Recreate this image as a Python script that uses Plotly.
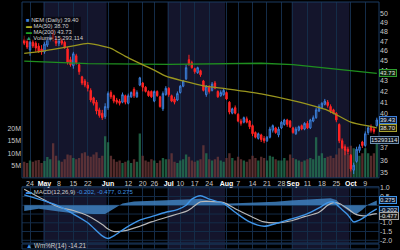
import math
import pandas as pd
import plotly.graph_objects as go

# ---------------- data ----------------
holidays = ["2023-05-29", "2023-06-19", "2023-07-04", "2023-09-04"]
dates = [d.strftime("%Y-%m-%d") for d in pd.bdate_range("2023-04-20", "2023-10-13")
         if d.strftime("%Y-%m-%d") not in holidays]

open_ = [47.2, 47.0, 46.1, 46.9, 46.8, 46.5, 46.2, 45.9, 46.6, 47.2, 47.8, 47.3, 46.8, 47.2, 46.9,
         46.2, 45.1, 44.5, 45.5, 44.6, 43.4, 43.0, 42.6, 42.1, 41.4, 41.0, 40.3, 40.0, 39.7, 40.5,
         41.9, 41.6, 41.2, 41.1, 41.0, 41.6, 40.9, 41.5, 42.2, 41.5, 42.6, 42.8, 42.4, 42.0, 42.0,
         41.1, 42.0, 41.5, 40.4, 41.7, 42.3, 41.6, 41.3, 41.2, 41.9, 42.5, 43.2, 45.1, 44.8, 44.2,
         43.8, 44.0, 43.0, 41.7, 42.4, 42.1, 42.8, 42.0, 41.6, 41.7, 41.9, 41.0, 40.0, 40.5, 39.9,
         39.3, 39.2, 39.5, 39.3, 38.9, 38.3, 37.8, 38.1, 37.8, 37.6, 37.9, 38.5, 38.7, 38.1, 38.7,
         39.0, 39.4, 39.3, 38.7, 38.2, 38.5, 38.9, 38.6, 39.1, 38.7, 39.3, 39.6, 40.2, 40.5, 40.8,
         41.0, 40.6, 40.3, 40.0, 39.0, 37.6, 37.1, 36.9, 36.4, 35.2, 35.9, 36.8, 37.5, 37.2, 38.3,
         38.8, 38.6, 38.9]
high = [47.6, 47.3, 47.1, 47.2, 47.0, 46.8, 46.6, 46.9, 47.5, 48.0, 48.3, 47.5, 47.3, 47.4, 47.1,
        46.4, 45.4, 45.9, 45.7, 44.8, 43.5, 43.2, 42.9, 42.3, 41.5, 41.2, 40.5, 40.3, 40.9, 42.0,
        42.1, 41.7, 41.4, 41.3, 41.9, 41.7, 41.8, 42.0, 42.4, 42.1, 43.4, 42.9, 42.5, 42.1, 42.1,
        42.1, 42.1, 41.6, 42.0, 42.5, 42.4, 41.7, 41.5, 42.0, 42.6, 43.1, 44.6, 45.6, 45.0, 44.3,
        44.4, 44.1, 43.1, 42.6, 42.6, 42.9, 43.0, 42.1, 42.1, 42.3, 42.0, 41.1, 40.5, 40.7, 40.0,
        39.5, 39.7, 39.7, 39.4, 39.0, 38.4, 38.3, 38.2, 38.0, 38.0, 38.8, 39.0, 38.8, 38.8, 39.3,
        39.5, 39.5, 39.4, 38.8, 38.8, 38.9, 39.0, 39.2, 39.3, 39.5, 39.8, 40.5, 40.8, 41.0, 41.3,
        41.2, 40.8, 40.4, 40.1, 39.1, 37.8, 37.3, 37.1, 36.5, 35.8, 37.1, 37.3, 37.6, 38.4, 38.9,
        39.0, 38.8, 39.6]
low = [46.6, 46.2, 45.5, 46.3, 45.9, 45.8, 45.6, 45.7, 46.4, 47.0, 47.0, 46.5, 46.5, 46.6, 46.2,
       44.6, 44.4, 44.2, 44.6, 43.6, 42.6, 42.4, 42.0, 41.0, 40.7, 39.9, 39.6, 39.4, 39.5, 40.3,
       41.3, 40.9, 40.8, 40.7, 40.9, 40.8, 40.8, 41.4, 41.4, 41.4, 42.5, 42.0, 41.9, 41.5, 41.4,
       41.0, 41.5, 40.5, 40.2, 41.6, 41.5, 41.0, 40.8, 41.1, 41.8, 42.4, 43.1, 44.5, 44.2, 43.7,
       43.7, 43.4, 42.0, 41.5, 41.8, 42.0, 42.2, 41.4, 41.5, 41.6, 41.2, 39.9, 39.9, 39.9, 39.2,
       38.9, 39.1, 39.1, 38.6, 38.0, 37.8, 37.7, 37.5, 37.4, 37.5, 37.8, 38.3, 38.2, 37.9, 38.6,
       38.9, 38.8, 38.7, 38.2, 38.1, 38.4, 38.5, 38.5, 38.6, 38.6, 39.2, 39.5, 40.1, 40.4, 40.7,
       40.5, 40.0, 39.9, 39.2, 37.4, 36.9, 36.4, 36.5, 35.1, 34.9, 35.8, 36.6, 37.0, 37.1, 38.1,
       38.3, 38.2, 38.8]
close = [46.8, 46.4, 46.9, 46.5, 46.3, 45.9, 45.9, 46.7, 47.2, 47.6, 47.3, 46.8, 47.1, 46.8, 46.4,
         44.8, 44.6, 45.7, 44.8, 43.9, 42.8, 42.6, 42.3, 41.2, 40.9, 40.2, 39.8, 39.6, 40.6, 41.8,
         41.5, 41.1, 41.0, 40.9, 41.7, 41.0, 41.6, 41.9, 41.6, 41.9, 43.3, 42.4, 42.0, 41.6, 41.5,
         42.0, 41.6, 40.6, 41.8, 42.3, 41.7, 41.1, 41.0, 41.8, 42.5, 43.0, 44.3, 44.6, 44.3, 43.9,
         44.3, 43.6, 42.1, 42.5, 42.0, 42.7, 42.3, 41.5, 41.9, 42.1, 41.3, 40.1, 40.4, 40.0, 39.3,
         39.1, 39.6, 39.2, 38.8, 38.2, 37.9, 38.2, 37.7, 37.6, 37.9, 38.6, 38.9, 38.3, 38.6, 39.2,
         39.4, 39.0, 38.8, 38.3, 38.6, 38.8, 38.6, 39.1, 38.7, 39.4, 39.6, 40.3, 40.6, 40.9, 41.1,
         40.7, 40.2, 40.0, 39.4, 37.6, 37.0, 36.8, 36.7, 35.3, 35.6, 36.9, 37.1, 37.2, 38.2, 38.7,
         38.5, 38.4, 39.4]
volume_m = [6.5, 6.0, 7.0, 6.5, 7.0, 7.2, 6.0, 6.8, 8.4, 7.5, 14.0, 9.0, 7.0, 6.5, 7.5,
            9.5, 9.2, 8.0, 7.5, 8.0, 10.0, 10.4, 9.0, 8.5, 9.5, 10.4, 8.0, 9.0, 16.8, 14.4,
            9.0, 7.5, 6.5, 7.0, 6.0, 6.5, 7.0, 6.0, 7.5, 6.5, 18.0, 9.0, 7.0, 6.5, 7.5,
            7.0, 6.0, 7.0, 8.0, 7.5, 7.5, 10.0, 6.5, 6.0, 7.0, 7.5, 9.5, 8.5, 7.0, 6.5,
            7.0, 7.5, 13.2, 10.0, 7.5, 7.0, 7.5, 8.5, 7.0, 6.5, 8.0, 10.0, 8.0, 7.0, 8.5,
            7.5, 7.0, 6.5, 7.5, 9.0, 8.0, 7.0, 8.5, 8.0, 7.0, 9.0, 8.5, 7.5, 7.0, 7.0,
            8.0, 7.0, 9.5, 8.0, 7.5, 7.0, 6.5, 7.0, 7.5, 8.0, 7.5, 16.4, 9.0, 10.0, 8.0,
            8.5, 9.0, 8.0, 9.5, 12.0, 13.0, 11.0, 10.0, 13.0, 12.0, 11.0, 9.0, 10.0, 12.0, 10.0,
            9.0, 10.0, 15.293114]

ma50_dates = ["2023-04-20", "2023-04-28", "2023-05-04", "2023-05-12", "2023-05-22", "2023-05-26",
              "2023-06-02", "2023-06-09", "2023-06-16", "2023-06-26", "2023-06-30", "2023-07-11",
              "2023-07-20", "2023-08-01", "2023-08-17", "2023-09-01", "2023-09-20", "2023-10-02",
              "2023-10-11", "2023-10-13"]
ma50 = [45.75, 45.95, 46.16, 46.47, 46.78, 46.57, 46.26, 45.44, 44.73, 44.05, 43.47, 43.00,
        42.53, 42.25, 41.78, 41.14, 40.26, 39.21, 38.82, 38.70]
ma200_dates = ["2023-04-20", "2023-05-22", "2023-07-03", "2023-08-17", "2023-09-01", "2023-09-18",
               "2023-10-02", "2023-10-13"]
ma200 = [44.95, 44.70, 44.62, 44.74, 44.60, 44.30, 44.00, 43.73]

macd_dates = ["2023-04-20", "2023-05-01", "2023-05-08", "2023-05-15", "2023-05-22", "2023-05-30",
              "2023-06-01", "2023-06-05", "2023-06-09", "2023-06-16", "2023-06-23", "2023-06-30",
              "2023-07-07", "2023-07-12", "2023-07-14", "2023-07-19", "2023-07-24", "2023-07-31",
              "2023-08-04", "2023-08-11", "2023-08-18", "2023-08-25", "2023-08-31", "2023-09-08",
              "2023-09-15", "2023-09-20", "2023-09-22", "2023-09-26", "2023-09-29", "2023-10-03",
              "2023-10-05", "2023-10-09", "2023-10-11", "2023-10-13"]
macd = [0.6, 0.25, -0.05, -0.5, -1.0, -1.75, -1.9, -1.75, -1.3, -0.85, -0.65, -0.4, -0.25, 0.0,
        0.35, 0.55, 0.35, 0.1, -0.4, -0.95, -1.2, -1.0, -0.8, -0.55, -0.15, 0.15, 0.2, -0.1,
        -0.55, -0.95, -0.85, -0.65, -0.4, -0.202]
signal = [0.92, 0.3, -0.1, -0.3, -0.6, -1.1, -1.35, -1.5, -1.45, -1.2, -0.95, -0.7, -0.5, -0.35,
          -0.15, 0.2, 0.22, 0.15, -0.2, -0.6, -0.95, -1.0, -0.9, -0.65, -0.4, 0.0, 0.15, 0.1,
          -0.2, -0.45, -0.58, -0.6, -0.53, -0.477]
hist_dates = ["2023-04-20", "2023-04-27", "2023-05-08", "2023-05-15", "2023-05-24", "2023-05-31",
              "2023-06-05", "2023-06-08", "2023-06-14", "2023-06-23", "2023-07-05", "2023-07-14",
              "2023-07-19", "2023-07-26", "2023-08-02", "2023-08-09", "2023-08-17", "2023-08-24",
              "2023-08-31", "2023-09-08", "2023-09-15", "2023-09-21", "2023-09-25", "2023-09-27",
              "2023-10-02", "2023-10-04", "2023-10-06", "2023-10-10", "2023-10-13"]
hist = [-0.32, -0.2, -0.35, -0.45, -0.5, -0.5, -0.2, 0.1, 0.22, 0.25, 0.28, 0.35, 0.38, 0.2, 0.1,
        0.12, 0.15, 0.2, 0.28, 0.32, 0.38, 0.4, 0.3, -0.05, -0.4, -0.5, -0.25, 0.05, 0.275]

tick_dates = ["2023-04-24", "2023-05-01", "2023-05-08", "2023-05-15", "2023-05-22", "2023-06-01",
              "2023-06-12", "2023-06-20", "2023-06-26", "2023-07-03", "2023-07-10", "2023-07-17",
              "2023-07-24", "2023-08-01", "2023-08-07", "2023-08-14", "2023-08-21", "2023-08-28",
              "2023-09-01", "2023-09-11", "2023-09-18", "2023-09-25", "2023-10-02", "2023-10-09"]
tick_labels = ["24", "May", "8", "15", "22", "Jun", "12", "20", "26", "Jul", "10", "17", "24",
               "Aug", "7", "14", "21", "28", "Sep", "11", "18", "25", "Oct", "9"]
price_ticks = [35, 36, 37, 40, 41, 42, 43, 44, 45, 46, 47, 48, 49, 50]
vol_ticks = [5e6, 10e6, 15e6, 20e6]
vol_tick_labels = ["5M", "10M", "15M", "20M"]
macd_ticks = [1.0, 0.5, -1.0, -1.5, -2.0]
macd_grid = [1.0, 0.5, 0.0, -0.5, -1.0, -1.5, -2.0]
shade_months = [("2023-04-28 12:00", "2023-05-31 12:00"),
                ("2023-06-30 12:00", "2023-07-31 12:00"),
                ("2023-08-31 12:00", "2023-09-29 12:00")]

# ---------------- styling ----------------
FONT = "Liberation Sans, Arial, sans-serif"
BG = "#000000"
SHADE = "#14152c"
GRID = "#142c48"
UP_LINE, UP_FILL = "#3d7fd9", "#15305a"
DN = "#ff2424"
TXT = "#c8c8c8"

volume = [v * 1e6 for v in volume_m]
vol_colors = ["rgba(38,120,84,0.75)" if c >= o else "rgba(112,58,58,0.75)"
              for o, c in zip(open_, close)]
ticktext = [f"<span style='color:#ffffff'><b>{t}</b></span>" if t.isalpha() else t for t in tick_labels]

fig = go.Figure()
fig.add_trace(go.Bar(x=dates, y=volume, marker=dict(color=vol_colors, line=dict(width=0)),
                     xaxis="x", yaxis="y", showlegend=False, hoverinfo="skip"))
fig.add_trace(go.Candlestick(x=dates, open=open_, high=high, low=low, close=close,
                             xaxis="x", yaxis="y2", whiskerwidth=0,
                             increasing=dict(line=dict(color=UP_LINE, width=1), fillcolor=UP_FILL),
                             decreasing=dict(line=dict(color=DN, width=1), fillcolor=DN),
                             showlegend=False))
fig.add_trace(go.Scatter(x=ma200_dates, y=ma200, mode="lines", xaxis="x", yaxis="y2",
                         line=dict(color="#1f8f1f", width=1.3), showlegend=False))
fig.add_trace(go.Scatter(x=ma50_dates, y=ma50, mode="lines", xaxis="x", yaxis="y2",
                         line=dict(color="#9a961e", width=1.3, shape="spline", smoothing=0.6),
                         showlegend=False))
# MACD panel
fig.add_trace(go.Scatter(x=hist_dates, y=hist, mode="lines", fill="tozeroy", xaxis="x2", yaxis="y3",
                         line=dict(color="rgba(70,140,210,0.0)", width=0),
                         fillcolor="rgba(62,128,192,0.85)", showlegend=False))
fig.add_trace(go.Scatter(x=macd_dates, y=signal, mode="lines", xaxis="x2", yaxis="y3",
                         line=dict(color="#b9b9b9", width=1.2, shape="spline", smoothing=0.8),
                         showlegend=False))
fig.add_trace(go.Scatter(x=macd_dates, y=macd, mode="lines", xaxis="x2", yaxis="y3",
                         line=dict(color="#3f95e8", width=1.4, shape="spline", smoothing=0.8),
                         showlegend=False))
# Williams %R panel (only its header strip is visible)
fig.add_trace(go.Scatter(x=[dates[-1]], y=[-14.21], mode="lines", xaxis="x3", yaxis="y4",
                         line=dict(color="#3f95e8", width=1), showlegend=False))

rb = [dict(bounds=["sat", "mon"]), dict(values=holidays)]
xr = ["2023-04-19 05:30", "2023-10-13 18:15"]
xcommon = dict(type="date", range=xr, rangebreaks=rb, tickvals=tick_dates, showgrid=True,
               gridcolor=GRID, gridwidth=1, zeroline=False, showline=False, ticks="",
               rangeslider=dict(visible=False), fixedrange=True, tickangle=0)

fig.update_layout(
    width=400, height=250, margin=dict(l=22, r=21, t=0, b=0),
    paper_bgcolor=BG, plot_bgcolor=BG, showlegend=False,
    font=dict(family=FONT, size=7, color=TXT),
    xaxis=dict(xcommon, domain=[0, 1], anchor="y", ticktext=ticktext,
               tickfont=dict(size=7, color=TXT), showticklabels=True, ticklabelstandoff=0),
    xaxis2=dict(xcommon, domain=[0, 1], anchor="y3", matches="x", showticklabels=False),
    xaxis3=dict(xcommon, domain=[0, 1], anchor="y4", matches="x", showticklabels=False),
    yaxis=dict(domain=[0.288, 1], range=[0, 71.2e6], side="left", tickvals=vol_ticks,
               ticktext=vol_tick_labels, showgrid=False, zeroline=False, ticks="",
               tickfont=dict(size=7, color=TXT)),
    yaxis2=dict(overlaying="y", side="right", type="log",
                range=[math.log10(34.6), math.log10(51.33)], tickvals=price_ticks,
                showgrid=False, zeroline=False, ticks="", tickfont=dict(size=7, color=TXT)),
    yaxis3=dict(domain=[0.024, 0.252], range=[-2.16, 1.06], side="right", tickvals=macd_ticks,
                ticktext=[f"{v:.1f}" for v in macd_ticks],
                showgrid=False, zeroline=False, ticks="",
                tickfont=dict(size=7, color=TXT)),
    yaxis4=dict(domain=[0, 0.02], range=[-100, 0], side="right", showticklabels=False,
                showgrid=False, zeroline=False),
)

shapes = []
for x0, x1 in shade_months:
    for xr_, yr_ in (("x", "y domain"), ("x2", "y3 domain"), ("x3", "y4 domain")):
        shapes.append(dict(type="rect", xref=xr_, yref=yr_, x0=x0, x1=x1, y0=0, y1=1,
                           fillcolor=SHADE, line=dict(width=0), layer="below"))
for g in macd_grid:
    shapes.append(dict(type="line", xref="x2 domain", yref="y3", x0=0, x1=1, y0=g, y1=g,
                       line=dict(color=GRID, width=1), layer="below"))
# panel borders
for y0, y1 in ((0.288, 1.0), (0.024, 0.252), (0.0, 0.02)):
    shapes.append(dict(type="rect", xref="paper", yref="paper", x0=0, x1=1, y0=y0, y1=y1,
                       line=dict(color="#1b3a60", width=1), fillcolor="rgba(0,0,0,0)", layer="above"))
# legend background
shapes.append(dict(type="rect", xref="paper", yref="paper", x0=0.002, x1=0.165,
                   y0=1 - 39 / 250, y1=1 - 15 / 250, fillcolor="rgba(0,0,0,0.55)",
                   line=dict(width=0), layer="above"))
fig.update_layout(shapes=shapes)

ann = []
legend_rows = [
    ("#3d7fd9", "■", "NEM (Daily) 39.40"),
    ("#b5b020", "▬", "MA(50) 38.70"),
    ("#22a022", "▬", "MA(200) 43.73"),
    ("#2a9a6a", "▲", "Volume 15,293,114"),
]
for i, (c, g, t) in enumerate(legend_rows):
    ann.append(dict(xref="paper", yref="paper", x=0.006, y=1 - (18.5 + 6.0 * i) / 250,
                    xanchor="left", yanchor="middle", showarrow=False,
                    text=f"<span style='color:{c}'>{g}</span> {t}",
                    font=dict(size=5.8, color="#d0d0d0", family=FONT)))
ann.append(dict(xref="paper", yref="paper", x=0.006, y=1 - 192 / 250, xanchor="left",
                yanchor="middle", showarrow=False,
                text="<span style='color:#3f95e8'>▬</span> MACD(12,26,9) "
                     "<span style='color:#3f95e8'>-0.202, -0.477, 0.275</span>",
                font=dict(size=6, color="#d0d0d0", family=FONT)))
ann.append(dict(xref="paper", yref="paper", x=0.006, y=1 - 247 / 250, xanchor="left",
                yanchor="middle", showarrow=False,
                text="<span style='color:#3f95e8'>▲</span> Wm%R(14) -14.21",
                font=dict(size=6.3, color="#d0d0d0", family=FONT)))

def tag(yref, y, text, border, bg, x=1.0, xanchor="left"):
    return dict(xref="paper", yref=yref, x=x, y=y, xanchor=xanchor, yanchor="middle",
                showarrow=False, text=text, bgcolor=bg, bordercolor=border, borderwidth=1,
                borderpad=0, font=dict(size=6, color="#e6e6e6", family=FONT))

ann.append(tag("y2", math.log10(ma200[-1]), f"{ma200[-1]:.2f}", "#2e9e2e", "#0b240b"))
ann.append(tag("y2", math.log10(39.43), "39.43", "#3d7fd9", "#0a1a36"))
ann.append(tag("y2", math.log10(ma50[-1]), f"{ma50[-1]:.2f}", "#a8a230", "#24220a"))
ann.append(tag("y", volume[-1], f"{round(volume[-1]):d}", "#6d8fb0", "#0b1522",
               x=1 + 20 / 357, xanchor="right"))
ann.append(tag("y3", hist[-1], f"{hist[-1]:.3f}", "#3f95e8", "#0a1a36"))
ann.append(tag("y3", macd[-1] - 0.05, f"{macd[-1]:.3f}", "#3f95e8", "#0a1a36"))
ann.append(tag("y3", signal[-1] - 0.12, f"{signal[-1]:.3f}", "#a0a0a0", "#1a1a1a"))
fig.update_layout(annotations=ann)

fig.write_html("out.html")
